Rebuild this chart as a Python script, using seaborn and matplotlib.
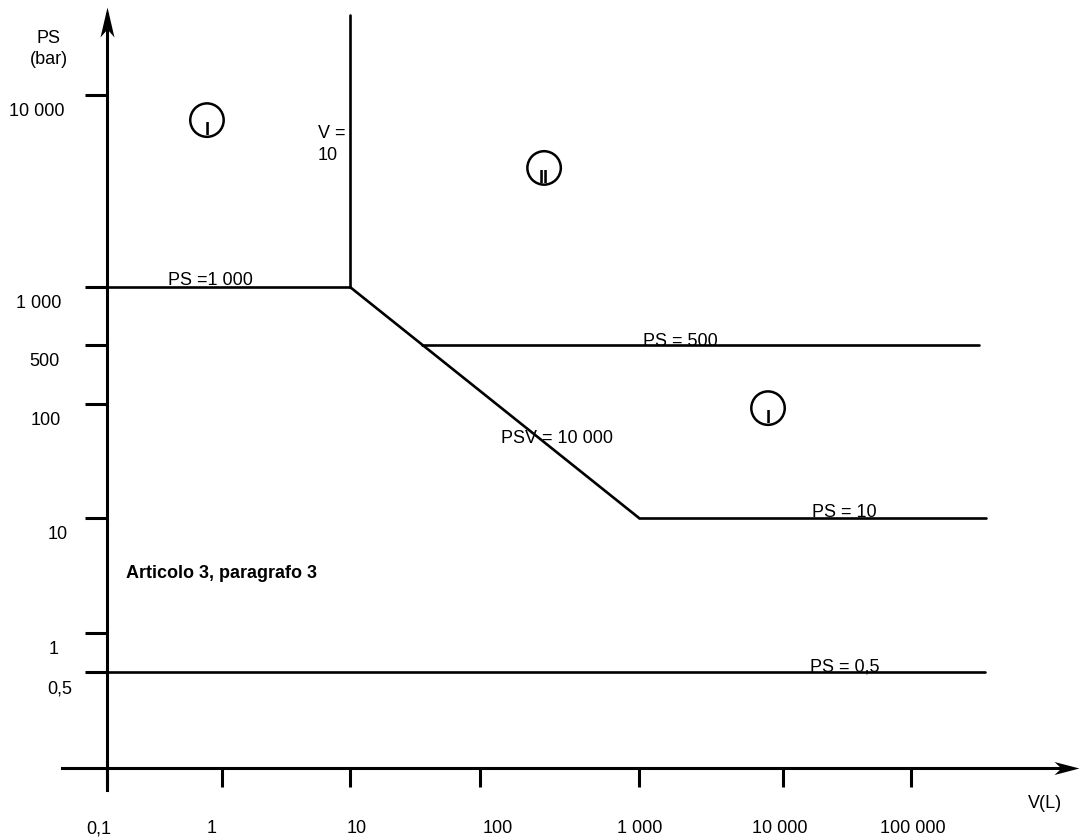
import numpy as np
import pandas as pd
import matplotlib
matplotlib.use("Agg")
import matplotlib.pyplot as plt
from matplotlib.transforms import Affine2D
from matplotlib.path import Path
import seaborn as sns

# ---------------- data ----------------
x_ticks = [0.1, 1, 10, 100, 1000, 10000, 100000]
x_tick_labels = ["0,1", "1", "10", "100", "1 000", "10 000", "100 000"]
y_ticks = [0.5, 1, 10, 100, 500, 1000, 10000]
y_tick_labels = ["0,5", "1", "10", "100", "500", "1 000", "10 000"]

seg_names = ["PS=1000", "PS=1000", "V=10", "V=10", "PSV", "PSV",
             "PS=500", "PS=500", "PS=10", "PS=10", "PS=0.5", "PS=0.5"]
seg_V = [0.1, 10, 10, 10, 10, 1000, 36, 340000, 1000, 385000, 0.1, 380000]
seg_PS = [1000, 1000, 1000, 26000, 1000, 10, 500, 500, 10, 10, 0.5, 0.5]

cat_V = [0.74, 253, 7870]
cat_PS = [7400, 4170, 92]
cat_labels = ["I", "II", "I"]

# ---------------- schematic scale (layout) ----------------
W, H = 1080, 840
X_TICK_PX = [107, 222, 350, 480, 639, 783, 911]
Y_TICK_PX = [672, 633, 518, 404, 345, 287, 95]   # measured from top


def make_scale(vals, pos):
    lv = np.log10(np.asarray(vals, float))
    pos = np.asarray(pos, float)
    s0 = (pos[1] - pos[0]) / (lv[1] - lv[0])
    s1 = (pos[-1] - pos[-2]) / (lv[-1] - lv[-2])

    def fwd(v):
        v = np.asarray(v, float)
        with np.errstate(all="ignore"):
            l = np.log10(np.where(v > 0, v, np.nan))
            out = np.interp(l, lv, pos)
            out = np.where(l < lv[0], pos[0] + (l - lv[0]) * s0, out)
            out = np.where(l > lv[-1], pos[-1] + (l - lv[-1]) * s1, out)
        return out

    def inv(p):
        p = np.asarray(p, float)
        l = np.interp(p, pos, lv)
        l = np.where(p < pos[0], lv[0] + (p - pos[0]) / s0, l)
        l = np.where(p > pos[-1], lv[-1] + (p - pos[-1]) / s1, l)
        return 10 ** l

    return fwd, inv


fx, ix = make_scale(x_ticks, X_TICK_PX)
fy, iy = make_scale(y_ticks, [H - p for p in Y_TICK_PX])

sns.set_style("white")
plt.rcParams["font.family"] = ["Liberation Sans", "DejaVu Sans"]
plt.rcParams["font.size"] = 13
plt.rcParams["text.color"] = "black"

fig = plt.figure(figsize=(W / 100, H / 100), dpi=100)
ax = fig.add_axes([0, 0, 1, 1])
ax.set_xscale("function", functions=(fx, ix))
ax.set_yscale("function", functions=(fy, iy))
ax.set_xlim(float(ix(0)), float(ix(W)))
ax.set_ylim(float(iy(0)), float(iy(H)))
ax.set_facecolor("white")

# lines
df = pd.DataFrame({"seg": seg_names, "V": seg_V, "PS": seg_PS})
sns.lineplot(data=df, x="V", y="PS", units="seg", estimator=None, sort=False,
             color="black", linewidth=1.9, legend=False, ax=ax)

# category circles
sns.scatterplot(x=cat_V, y=cat_PS, s=580, marker="o", color="black",
                facecolor="none", edgecolor="black", linewidth=1.8,
                legend=False, ax=ax, zorder=3)
for v, p, lab in zip(cat_V, cat_PS, cat_labels):
    ax.annotate(lab, xy=(v, p), xytext=(0, -15), textcoords="offset pixels",
                ha="center", va="baseline", fontsize=13, fontweight="bold",
                color="black")

# axes (spines at schematic origin)
for s in ["top", "right"]:
    ax.spines[s].set_visible(False)
x_axis_ps = float(iy(H - 768))
ax.spines["left"].set_position(("data", 0.1))
ax.spines["left"].set_bounds(float(iy(H - 790)), float(iy(H - 14)))
ax.spines["bottom"].set_position(("data", x_axis_ps))
ax.spines["bottom"].set_bounds(float(ix(62)), float(ix(1062)))
for s in ["left", "bottom"]:
    ax.spines[s].set_linewidth(2.2)
    ax.spines[s].set_color("black")

ax.set_xticks(x_ticks)
ax.set_yticks(y_ticks)
ax.xaxis.set_minor_locator(matplotlib.ticker.NullLocator())
ax.yaxis.set_minor_locator(matplotlib.ticker.NullLocator())
ax.tick_params(axis="x", which="major", bottom=True, top=False, direction="out",
               length=13.7, width=2.2, color="black", labelbottom=False)
ax.tick_params(axis="y", which="major", left=True, right=False, direction="out",
               length=15.8, width=2.2, color="black", labelleft=False)
ax.set_xlabel("")
ax.set_ylabel("")

# arrow heads (notched)
up_head = Path([(0, 0), (-7, -30), (0, -22), (7, -30), (0, 0)],
               [Path.MOVETO, Path.LINETO, Path.LINETO, Path.LINETO, Path.CLOSEPOLY])
right_head = Path([(0, 0), (-25, 6.5), (-18, 0), (-25, -6.5), (0, 0)],
                  [Path.MOVETO, Path.LINETO, Path.LINETO, Path.LINETO, Path.CLOSEPOLY])
ax.plot([0.1], [float(iy(H - 7))], marker=up_head, markersize=43.2,
        color="black", markeredgewidth=0, clip_on=False)
ax.plot([float(ix(1079))], [x_axis_ps], marker=right_head, markersize=36,
        color="black", markeredgewidth=0, clip_on=False)

# text (pixel layout, y from top, baseline aligned)
pxT = Affine2D().scale(1, -1).translate(0, H)


def t(x, y, s, ha="left", **kw):
    ax.text(x, y, s, transform=pxT, ha=ha, va="baseline", fontsize=13,
            color="black", **kw)


y_lab_x = [47, 49, 48, 31, 29, 16, 9]
for lab, ypx, xl in zip(y_tick_labels, Y_TICK_PX, y_lab_x):
    t(xl, ypx + 21, lab)
x_lab_c = [99, 212, 357, 498, 640, 780, 913]
for lab, xc in zip(x_tick_labels, x_lab_c):
    t(xc, 833, lab, ha="center")

t(49, 43, "PS", ha="center")
t(49, 64, "(bar)", ha="center")
t(1028, 808, "V(L)")
t(318, 138, "V =")
t(318, 160, "10")
t(168, 285, "PS =1 000")
t(643, 346, "PS = 500")
t(501, 443, "PSV = 10 000")
t(812, 517, "PS = 10")
t(810, 672, "PS = 0,5")
t(126, 578, "Articolo 3, paragrafo 3", fontweight="bold")

fig.savefig("out.png", dpi=100)
